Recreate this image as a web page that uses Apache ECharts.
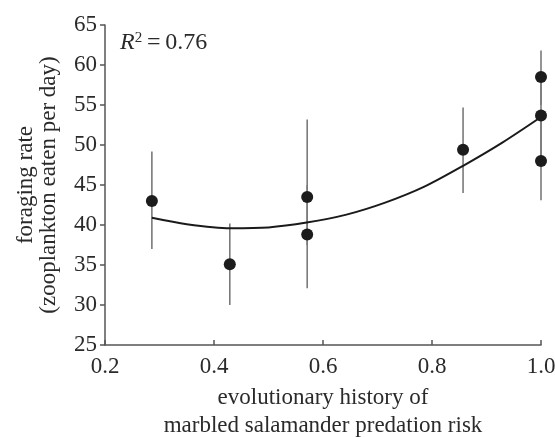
<!DOCTYPE html>
<html>
<head>
<meta charset="utf-8">
<script src="https://cdn.jsdelivr.net/npm/echarts@6/dist/echarts.min.js"></script>
<style>
	html, body { margin: 0; padding: 0; background: #fff; }
	#chart { width: 555px; height: 437px; }
</style>
</head>
<body>
<div id="chart"></div>
<script>
	// 散点 + 误差棒
	const pointX = [0.286, 0.429, 0.571, 0.571, 0.857, 1.0, 1.0, 1.0]
	const pointY = [43.0, 35.1, 43.5, 38.8, 49.4, 58.5, 53.7, 48.0]
	const errLow = [37.0, 30.0, 37.5, 32.1, 44.0, 55.0, 48.0, 43.1]
	const errHigh = [49.2, 40.2, 53.2, 45.0, 54.7, 61.8, 59.0, 53.0]
	// 拟合曲线（从图上读出的点）
	const fitX = [0.286, 0.35, 0.43, 0.5, 0.57, 0.643, 0.714, 0.786, 0.857, 0.929, 1.0]
	const fitY = [40.9, 40.1, 39.6, 39.7, 40.3, 41.3, 42.8, 44.8, 47.4, 50.3, 53.5]
	const xTicks = [0.2, 0.4, 0.6, 0.8, 1.0]
	const yTicks = [25, 30, 35, 40, 45, 50, 55, 60, 65]

	const font = 'Liberation Serif'
	const textColor = '#2a2a2a'
	const axisColor = '#555'

	const myCharts = echarts.init(document.getElementById('chart'))

	const option = {
		animation: false,
		backgroundColor: '#fff',
		grid: {
			left: 105,
			right: 14,
			top: 25,
			bottom: 92,
			outerBoundsMode: 'none'
		},
		xAxis: {
			type: 'value',
			min: xTicks[0],
			max: xTicks[xTicks.length - 1],
			interval: 0.2,
			name: 'evolutionary history of\nmarbled salamander predation risk',
			nameLocation: 'middle',
			nameGap: 39,
			nameTextStyle: {
				fontFamily: font,
				fontSize: 23,
				color: textColor,
				lineHeight: 28
			},
			axisLine: { lineStyle: { color: axisColor, width: 1.5 } },
			axisTick: { inside: true, length: 5, lineStyle: { color: axisColor, width: 1.5 } },
			axisLabel: {
				fontFamily: font,
				fontSize: 23,
				color: textColor,
				margin: 10,
				formatter: (v) => v.toFixed(1)
			},
			splitLine: { show: false }
		},
		yAxis: {
			type: 'value',
			min: yTicks[0],
			max: yTicks[yTicks.length - 1],
			interval: 5,
			name: 'foraging rate\n(zooplankton eaten per day)',
			nameLocation: 'middle',
			nameGap: 45,
			nameRotate: 90,
			nameTextStyle: {
				fontFamily: font,
				fontSize: 23,
				color: textColor,
				lineHeight: 23
			},
			axisLine: { show: true, lineStyle: { color: axisColor, width: 1.5 } },
			axisTick: { show: true, length: 5, lineStyle: { color: axisColor, width: 1.5 } },
			axisLabel: {
				fontFamily: font,
				fontSize: 23,
				color: textColor,
				margin: 8
			},
			splitLine: { show: false }
		},
		graphic: [
			{
				type: 'text',
				left: 120,
				top: 31,
				style: {
					text: '{i|R}{s|2}{n|\u2009=\u20090.76}',
					rich: {
						i: { fontFamily: font, fontSize: 24, fontStyle: 'italic', fill: textColor },
						s: { fontFamily: font, fontSize: 15, fill: textColor, verticalAlign: 'top', padding: [0, 0, 9, 0] },
						n: { fontFamily: font, fontSize: 24, fill: textColor }
					}
				}
			}
		],
		series: [
			{
				name: 'error',
				type: 'custom',
				renderItem: (params, api) => {
					const top = api.coord([api.value(0), api.value(2)])
					const bottom = api.coord([api.value(0), api.value(1)])
					return {
						type: 'line',
						shape: { x1: top[0], y1: top[1], x2: bottom[0], y2: bottom[1] },
						style: { stroke: '#7a7a7a', lineWidth: 1.6 }
					}
				},
				encode: { x: 0, y: [1, 2] },
				data: pointX.map((x, i) => [x, errLow[i], errHigh[i]]),
				z: 1
			},
			{
				name: 'fit',
				type: 'line',
				smooth: 0.3,
				showSymbol: false,
				lineStyle: { color: '#1a1a1a', width: 2 },
				data: fitX.map((x, i) => [x, fitY[i]]),
				z: 2
			},
			{
				name: 'points',
				type: 'scatter',
				symbolSize: 12,
				itemStyle: { color: '#1c1c1c', opacity: 1 },
				data: pointX.map((x, i) => [x, pointY[i]]),
				z: 3
			}
		]
	}

	myCharts.setOption(option)
</script>
</body>
</html>
